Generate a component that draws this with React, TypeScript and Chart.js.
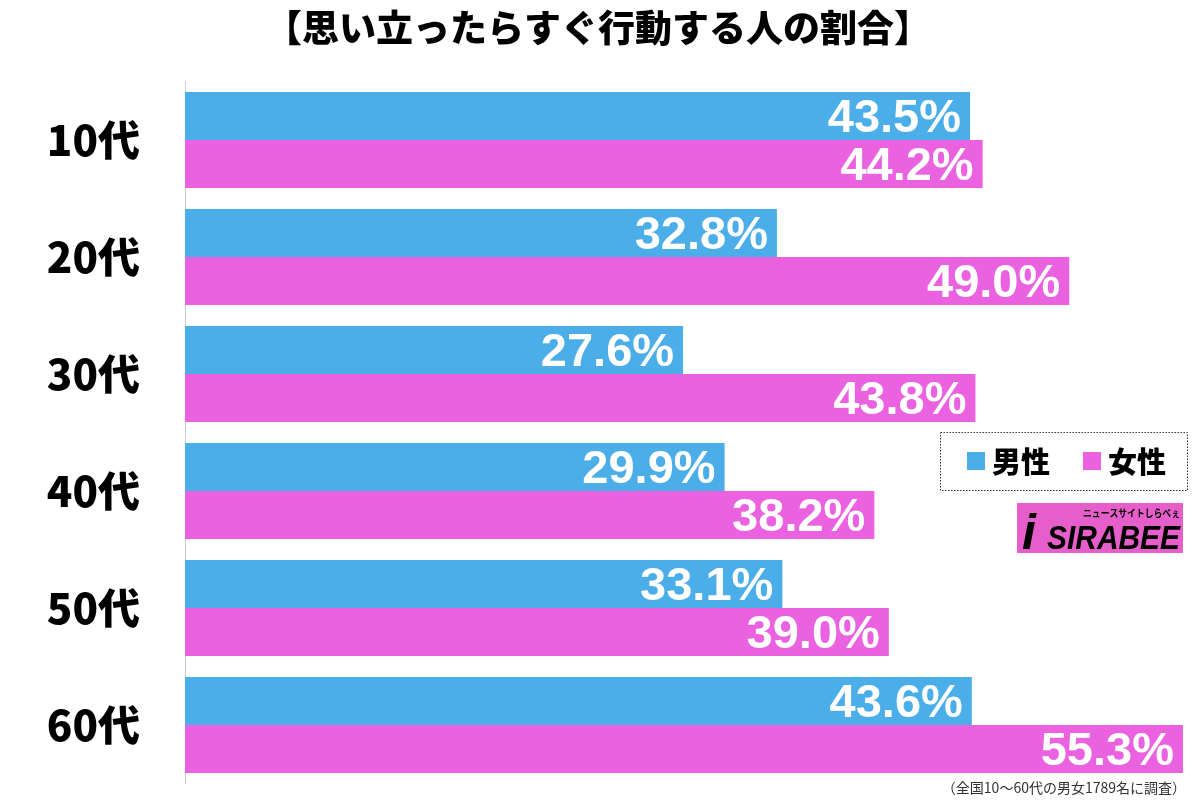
import React, { useEffect, useRef } from "react";
import { Chart, registerables } from "chart.js";

Chart.register(...registerables);

const categories = ["10代", "20代", "30代", "40代", "50代", "60代"];
const maleValues = [43.5, 32.8, 27.6, 29.9, 33.1, 43.6];
const femaleValues = [44.2, 49.0, 43.8, 38.2, 39.0, 55.3];
const seriesNames = ["男性", "女性"];
const titleText = "【思い立ったらすぐ行動する人の割合】";
const footnoteText = "（全国10〜60代の男女1789名に調査）";

const BLUE = "#4BAEE8";
const PINK = "#EA62DF";
const JP = '"Noto Sans CJK JP", "Noto Sans", sans-serif';
const NUM = '"Liberation Sans", Arial, sans-serif';

const decorPlugin = {
  id: "decor",
  afterDatasetsDraw(chart: any) {
    const ctx = chart.ctx as CanvasRenderingContext2D;
    chart.data.datasets.forEach((ds: any, di: number) => {
      const meta = chart.getDatasetMeta(di);
      meta.data.forEach((bar: any, i: number) => {
        const v = ds.data[i] as number;
        ctx.save();
        ctx.fillStyle = "#ffffff";
        ctx.font = `bold 47px ${NUM}`;
        ctx.textAlign = "right";
        ctx.textBaseline = "middle";
        ctx.fillText(v.toFixed(1) + "%", bar.x - 9, bar.y + 3);
        ctx.restore();
      });
    });
  },
  afterDraw(chart: any) {
    const ctx = chart.ctx as CanvasRenderingContext2D;
    ctx.save();
    // title
    ctx.fillStyle = "#000";
    ctx.font = `900 37px ${JP}`;
    ctx.textAlign = "center";
    ctx.textBaseline = "middle";
    ctx.fillText(titleText, 598, 28);

    // legend box
    ctx.strokeStyle = "#333";
    ctx.lineWidth = 1;
    ctx.setLineDash([1.5, 1.5]);
    ctx.strokeRect(940.5, 432.5, 247, 58);
    ctx.setLineDash([]);
    const items = chart.data.datasets.map((d: any) => ({ label: d.label, color: d.backgroundColor }));
    const xs = [967, 1083];
    items.forEach((it: any, k: number) => {
      ctx.fillStyle = it.color;
      ctx.fillRect(xs[k], 452, 18, 18);
      ctx.fillStyle = "#000";
      ctx.font = `900 29px ${JP}`;
      ctx.textAlign = "left";
      ctx.textBaseline = "middle";
      ctx.fillText(it.label, xs[k] + 25, 462);
    });

    // logo
    ctx.fillStyle = "#E65EC9";
    ctx.fillRect(1017, 503, 166, 50);
    ctx.fillStyle = "#000";
    ctx.font = `italic bold 50px ${NUM}`;
    ctx.textAlign = "left";
    ctx.textBaseline = "alphabetic";
    ctx.fillText("i", 1022, 549);
    ctx.font = `italic 900 33px ${NUM}`;
    ctx.fillText("SIRABEE", 1047, 549, 133);
    ctx.font = `bold 10px ${JP}`;
    ctx.fillText("ニュースサイトしらべぇ", 1083, 517, 97);

    // footnote
    ctx.fillStyle = "#333";
    ctx.font = `14px ${JP}`;
    ctx.textAlign = "right";
    ctx.textBaseline = "middle";
    ctx.fillText(footnoteText, 1186, 788);
    ctx.restore();
  },
};

export default function App() {
  const ref = useRef<HTMLCanvasElement>(null);
  useEffect(() => {
    document.body.style.margin = "0";
    const chart = new Chart(ref.current!, {
      type: "bar",
      data: {
        labels: categories,
        datasets: [
          { label: seriesNames[0], data: maleValues, backgroundColor: BLUE },
          { label: seriesNames[1], data: femaleValues, backgroundColor: PINK },
        ],
      },
      options: {
        indexAxis: "y",
        animation: false,
        responsive: false,
        maintainAspectRatio: false,
        layout: { padding: { top: 81.5, bottom: 17.5, right: 4.4, left: 0 } },
        datasets: { bar: { categoryPercentage: 0.82, barPercentage: 1 } },
        plugins: { legend: { display: false }, tooltip: { enabled: false }, title: { display: false } },
        scales: {
          x: { display: false, min: 0, max: 56 },
          y: {
            grid: { display: false, drawTicks: false },
            border: { display: true, color: "#cccccc", width: 1 },
            ticks: {
              padding: 45,
              color: "#000",
              font: { family: JP, size: 42, weight: "900" as any },
            },
            afterFit(scale: any) {
              scale.width = 185;
              scale.paddingTop = 0;
              scale.paddingBottom = 0;
            },
          },
        },
      },
      plugins: [decorPlugin],
    });
    return () => chart.destroy();
  }, []);
  return (
    <div style={{ position: "absolute", left: 0, top: 0, width: 1200, height: 801, background: "#fff" }}>
      <canvas ref={ref} width={1200} height={801} style={{ width: 1200, height: 801 }} />
    </div>
  );
}
